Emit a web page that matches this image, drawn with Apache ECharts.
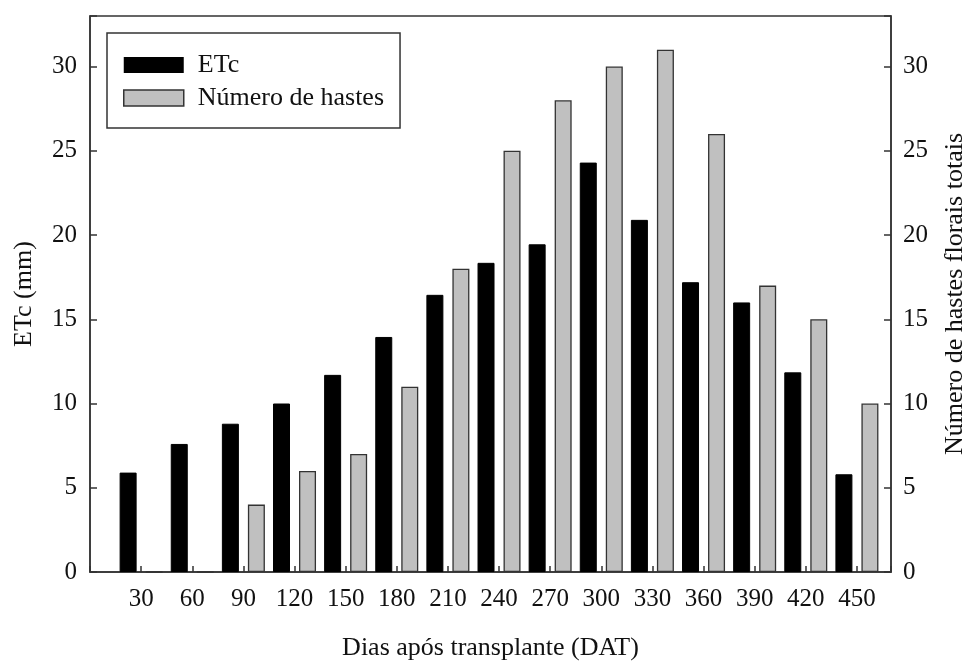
<!DOCTYPE html>
<html>
<head>
<meta charset="utf-8">
<script src="https://cdn.jsdelivr.net/npm/echarts@6/dist/echarts.min.js"></script>
<style>html,body{margin:0;padding:0;background:#fff}#c{width:976px;height:666px}</style>
</head>
<body>
<div id="c"></div>
<script>
var days = [30, 60, 90, 120, 150, 180, 210, 240, 270, 300, 330, 360, 390, 420, 450];
var etc = [5.9, 7.6, 8.8, 10.0, 11.7, 13.95, 16.45, 18.35, 19.45, 24.3, 20.9, 17.2, 16.0, 11.85, 5.8];
var hastes = [0, 0, 4, 6, 7, 11, 18, 25, 28, 30, 31, 26, 17, 15, 10];
var yTicks = [0, 5, 10, 15, 20, 25, 30];

var FONT = 'Liberation Serif';
var FS = 25;
var NFS = 26;
var chart = echarts.init(document.getElementById('c'));
var axisLine = {show: true, lineStyle: {color: '#333', width: 1.5}};
function yAxis(pos, name, gap, margin) {
  return {
    type: 'value', position: pos, min: 0, max: 33, interval: 5,
    name: name, nameLocation: 'middle', nameGap: gap, nameRotate: 90,
    nameTextStyle: {fontFamily: FONT, fontSize: NFS, color: '#111'},
    axisLine: axisLine,
    axisTick: {show: true, inside: true, length: 7, lineStyle: {color: '#333', width: 1.5}},
    axisLabel: {fontFamily: FONT, fontSize: FS, color: '#111', margin: margin,
      formatter: function (v) { return yTicks.indexOf(v) >= 0 ? String(v) : ''; }},
    splitLine: {show: false}
  };
}
chart.setOption({
  animation: false,
  grid: {left: 90, right: 82, top: 16, bottom: 91, show: true, borderColor: '#333', borderWidth: 1.5, backgroundColor: 'transparent'},
  legend: {
    orient: 'vertical', left: 107, top: 33,
    icon: 'rect',
    itemWidth: 60, itemHeight: 16, itemGap: 7,
    padding: [19, 16, 17, 16],
    borderColor: '#333', borderWidth: 1.5,
    textStyle: {fontFamily: FONT, fontSize: NFS, color: '#111', padding: [0, 0, 0, 9]},
    data: [
      {name: 'ETc', itemStyle: {color: '#000', borderColor: '#000', borderWidth: 0}},
      {name: 'Número de hastes', itemStyle: {color: '#c0c0c0', borderColor: '#333', borderWidth: 1.5}}
    ]
  },
  xAxis: {
    type: 'value', min: 0, max: 470, interval: 30,
    name: 'Dias após transplante (DAT)', nameLocation: 'middle', nameGap: 63,
    nameTextStyle: {fontFamily: FONT, fontSize: NFS, color: '#111'},
    axisLine: axisLine,
    axisTick: {show: true, inside: true, length: 6, lineStyle: {color: '#333', width: 1.5}},
    axisLabel: {fontFamily: FONT, fontSize: FS, color: '#111', margin: 15,
      formatter: function (v) { return days.indexOf(v) >= 0 ? String(v) : ''; }},
    splitLine: {show: false}
  },
  yAxis: [yAxis('left', 'ETc (mm)', 53, 13), yAxis('right', 'Número de hastes florais totais', 51, 12)],
  series: [
    {name: 'ETc', type: 'bar', yAxisIndex: 0, barWidth: 17, barGap: '53%',
      itemStyle: {color: '#000', borderColor: '#000', borderWidth: 1},
      data: days.map(function (d, i) { return [d, etc[i]]; })},
    {name: 'Número de hastes', type: 'bar', yAxisIndex: 1, barWidth: 17, barGap: '53%',
      itemStyle: {color: '#c0c0c0', borderColor: '#333', borderWidth: 1.3},
      data: days.map(function (d, i) { return [d, hastes[i]]; })}
  ]
});
</script>
</body>
</html>
